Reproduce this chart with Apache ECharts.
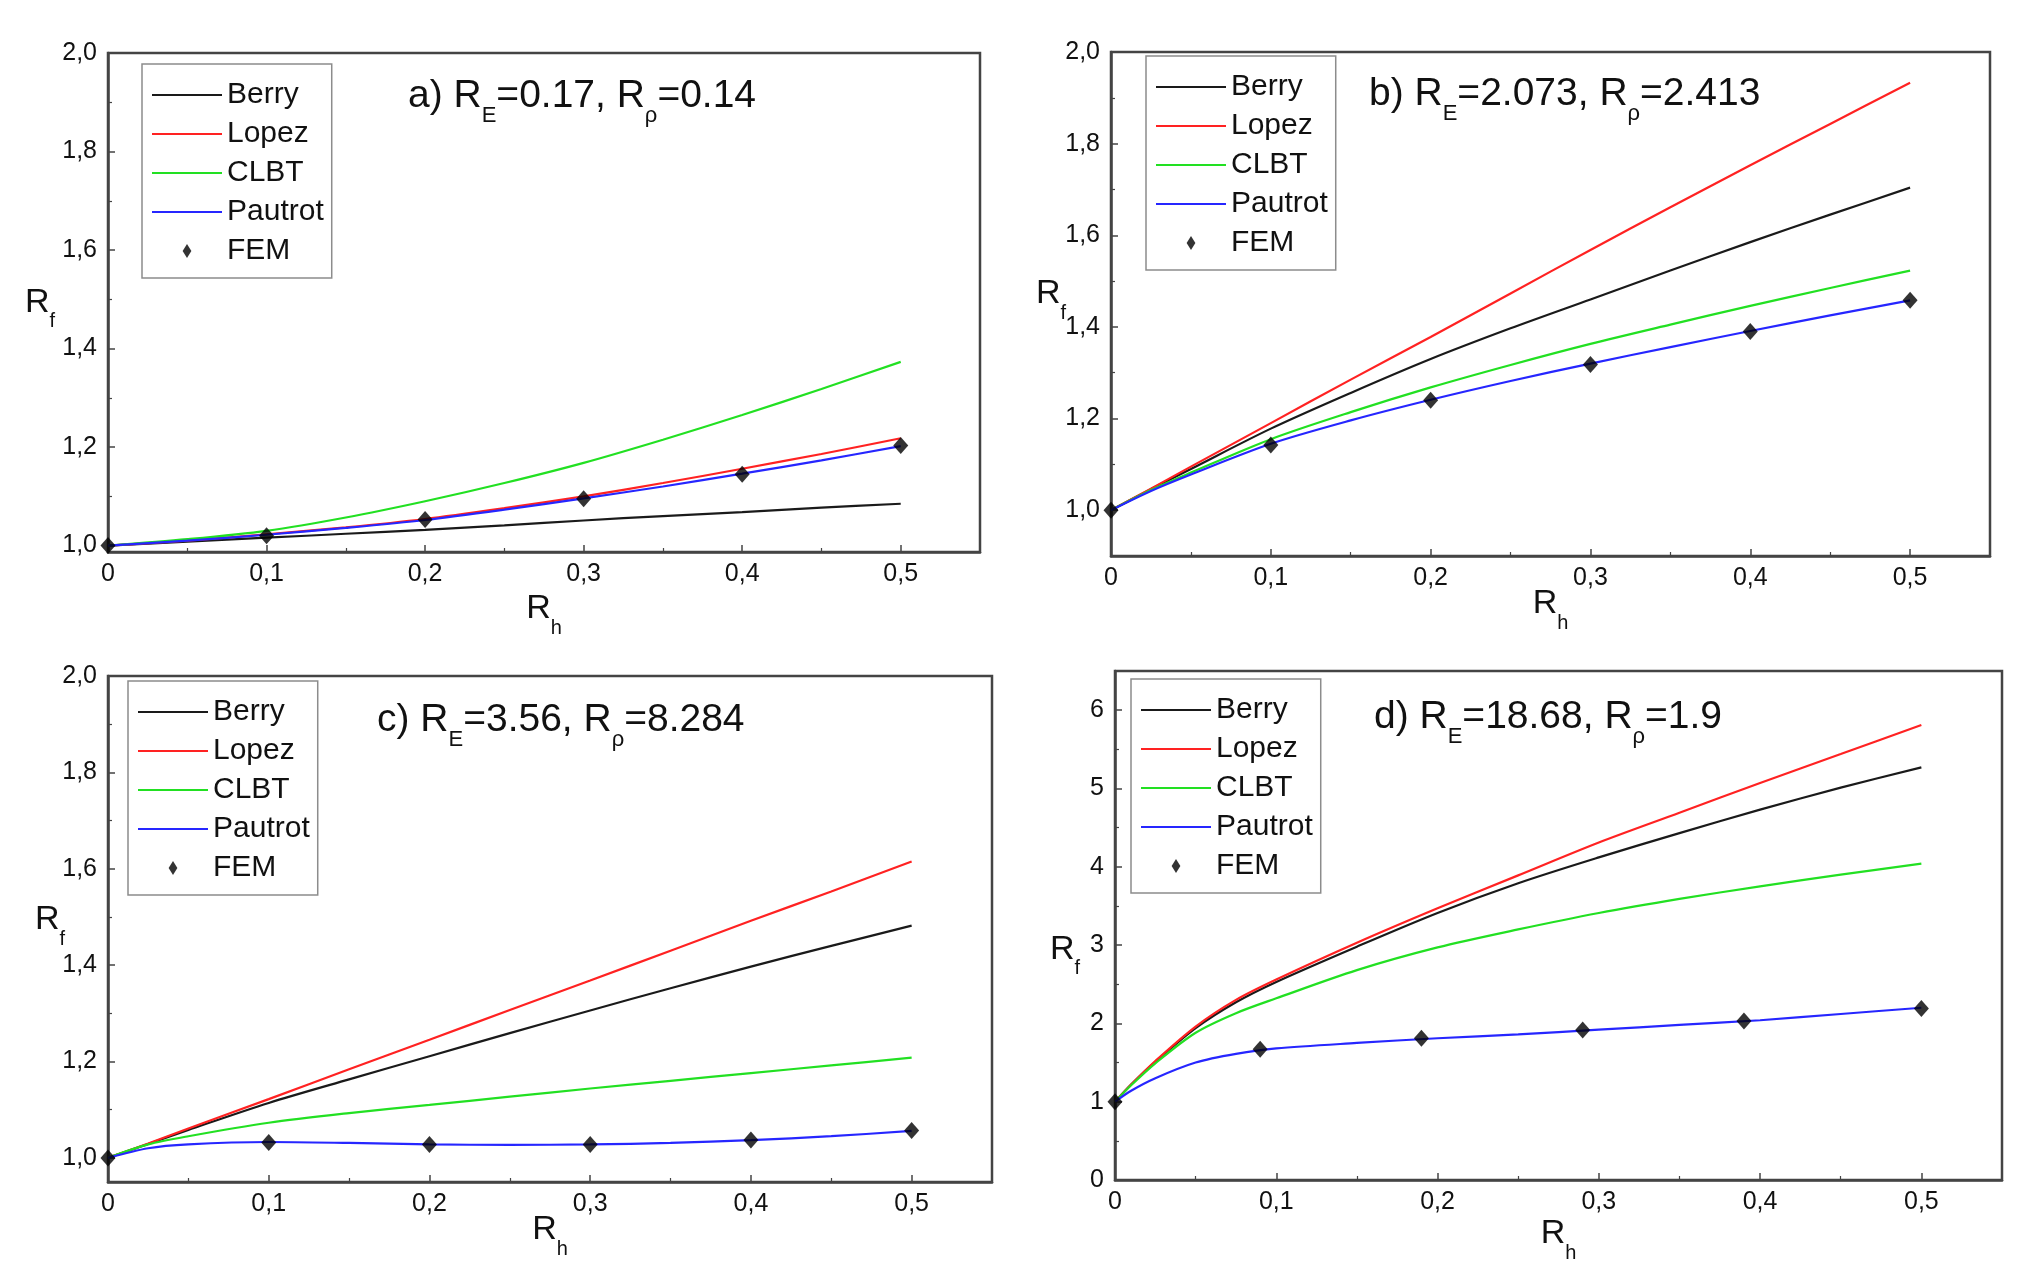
<!DOCTYPE html>
<html>
<head>
<meta charset="utf-8">
<script src="https://cdn.jsdelivr.net/npm/echarts@6/dist/echarts.min.js"></script>
<style>
  html, body { margin: 0; padding: 0; background: #fff; }
  #main { width: 2023px; height: 1286px; }
</style>
</head>
<body>
<div id="main"></div>
<script>
// ---- data (x = Rh, y = Rf) ----
const seriesNames = ['Berry', 'Lopez', 'CLBT', 'Pautrot', 'FEM'];

// a) RE=0.17, Rrho=0.14
const xA = [0, 0.05, 0.1, 0.15, 0.2, 0.25, 0.3, 0.35, 0.4, 0.45, 0.5];
const berryA = [1.0, 1.008, 1.016, 1.024, 1.032, 1.041, 1.051, 1.06, 1.068, 1.077, 1.085];
const lopezA = [1.0, 1.01, 1.023, 1.037, 1.054, 1.076, 1.1, 1.127, 1.156, 1.186, 1.218];
const clbtA = [1.0, 1.013, 1.03, 1.057, 1.09, 1.127, 1.168, 1.215, 1.265, 1.318, 1.373];
const pautrotA = [1.0, 1.01, 1.022, 1.036, 1.052, 1.073, 1.096, 1.12, 1.146, 1.173, 1.202];
const femXA = [0, 0.1, 0.2, 0.3, 0.4, 0.5];
const femA = [1.0, 1.02, 1.053, 1.095, 1.145, 1.203];

// b) RE=2.073, Rrho=2.413
const xB = [0, 0.025, 0.05, 0.1, 0.15, 0.2, 0.25, 0.3, 0.35, 0.4, 0.45, 0.5];
const berryB = [1.0, 1.046, 1.09, 1.178, 1.256, 1.33, 1.397, 1.46, 1.523, 1.585, 1.645, 1.704];
const lopezB = [1.0, 1.047, 1.095, 1.19, 1.285, 1.378, 1.473, 1.568, 1.661, 1.753, 1.843, 1.933];
const clbtB = [1.0, 1.044, 1.082, 1.155, 1.214, 1.268, 1.317, 1.363, 1.405, 1.446, 1.485, 1.523];
const pautrotB = [1.0, 1.042, 1.078, 1.145, 1.196, 1.241, 1.282, 1.32, 1.356, 1.391, 1.425, 1.458];
const femXB = [0, 0.1, 0.2, 0.3, 0.4, 0.5];
const femB = [1.0, 1.142, 1.24, 1.318, 1.39, 1.458];

// c) RE=3.56, Rrho=8.284
const xC = [0, 0.025, 0.05, 0.1, 0.15, 0.2, 0.25, 0.3, 0.35, 0.4, 0.45, 0.5];
const berryC = [1.0, 1.029, 1.058, 1.114, 1.163, 1.211, 1.259, 1.306, 1.352, 1.397, 1.44, 1.482];
const lopezC = [1.0, 1.03, 1.061, 1.122, 1.184, 1.245, 1.307, 1.368, 1.43, 1.492, 1.553, 1.615];
const clbtC = [1.0, 1.028, 1.045, 1.073, 1.093, 1.11, 1.127, 1.144, 1.16, 1.176, 1.192, 1.208];
const pautrotC = [1.0, 1.02, 1.028, 1.033, 1.031, 1.028, 1.027, 1.028, 1.031, 1.037, 1.045, 1.056];
const femXC = [0, 0.1, 0.2, 0.3, 0.4, 0.5];
const femC = [1.0, 1.032, 1.028, 1.028, 1.037, 1.057];

// d) RE=18.68, Rrho=1.9
const xD = [0, 0.01, 0.025, 0.05, 0.075, 0.1, 0.15, 0.2, 0.25, 0.3, 0.35, 0.4, 0.45, 0.5];
const berryD = [1.0, 1.22, 1.51, 1.94, 2.27, 2.53, 2.98, 3.41, 3.79, 4.12, 4.43, 4.73, 5.01, 5.27];
const lopezD = [1.0, 1.22, 1.52, 1.96, 2.3, 2.56, 3.03, 3.47, 3.89, 4.31, 4.69, 5.07, 5.44, 5.81];
const clbtD = [1.0, 1.21, 1.49, 1.88, 2.13, 2.32, 2.68, 2.97, 3.2, 3.41, 3.59, 3.75, 3.9, 4.04];
const pautrotD = [1.0, 1.14, 1.3, 1.5, 1.61, 1.68, 1.75, 1.81, 1.86, 1.92, 1.98, 2.04, 2.12, 2.2];
const femXD = [0, 0.09, 0.19, 0.29, 0.39, 0.5];
const femD = [1.0, 1.67, 1.81, 1.914, 2.03, 2.19];

const panelTitles = [
  '{m|a) R}{s|E}{m|=0.17, R}{s|ρ}{m|=0.14}',
  '{m|b) R}{s|E}{m|=2.073, R}{s|ρ}{m|=2.413}',
  '{m|c) R}{s|E}{m|=3.56, R}{s|ρ}{m|=8.284}',
  '{m|d) R}{s|E}{m|=18.68, R}{s|ρ}{m|=1.9}',
];

// ---- styling / layout ----
const FONT = "'Liberation Sans', Arial, sans-serif";
const INK = '#111';
const AXIS = '#444';
const lineColors = { Berry: '#1a1a1a', Lopez: '#ff2222', CLBT: '#22e022', Pautrot: '#2626ff' };
// flat bar used as legend key for the curves, small diamond for FEM
const LINE_ICON = 'path://M0,0L70,0L70,2.2L0,2.2Z';
const DIAMOND_ICON = 'path://M5,0L10,8L5,16L0,8Z';

const panels = [
  { grid: { left: 108, top: 53, width: 872, height: 499 }, yMin: 0.987, yMax: 2.0, yStep: 0.2,
    x: xA, lines: [berryA, lopezA, clbtA, pautrotA], femX: femXA, fem: femA,
    legend: [142, 64], title: [408, 77], yNameGap: 53, yNamePad: [12, 0, 0, 0], xNameGap: 40 },
  { grid: { left: 1111, top: 52, width: 879, height: 504 }, yMin: 0.9, yMax: 2.0, yStep: 0.2,
    x: xB, lines: [berryB, lopezB, clbtB, pautrotB], femX: femXB, fem: femB,
    legend: [1146, 56], title: [1369, 75], yNameGap: 45, yNamePad: [0, 0, 8, 0], xNameGap: 31 },
  { grid: { left: 108, top: 676, width: 884, height: 506 }, yMin: 0.95, yMax: 2.0, yStep: 0.2,
    x: xC, lines: [berryC, lopezC, clbtC, pautrotC], femX: femXC, fem: femC,
    legend: [128, 681], title: [377, 701], yNameGap: 43, yNamePad: [0, 0, 6, 0], xNameGap: 31 },
  { grid: { left: 1115, top: 671, width: 887, height: 509 }, yMin: 0, yMax: 6.5, yStep: 1,
    x: xD, lines: [berryD, lopezD, clbtD, pautrotD], femX: femXD, fem: femD,
    legend: [1131, 679], title: [1374, 698], yNameGap: 35, yNamePad: [60, 0, 0, 0], xNameGap: 37 },
];

function zip(xs, ys) {
  return xs.map((x, i) => [x, ys[i]]);
}

function commaLabel(step) {
  return function (v) {
    const k = v / step;
    if (Math.abs(k - Math.round(k)) > 1e-6) return '';
    if (Math.abs(v) < 1e-9) return '0';
    return step < 1 ? v.toFixed(1).replace('.', ',') : String(Math.round(v));
  };
}

function subRich(main, sub, pad) {
  return {
    m: { fontFamily: FONT, fontSize: main, fontWeight: 'normal', color: INK, verticalAlign: 'top' },
    s: { fontFamily: FONT, fontSize: sub, fontWeight: 'normal', color: INK, verticalAlign: 'bottom', padding: [pad, 0, 0, 0] },
  };
}

const axisCommon = {
  type: 'value',
  splitLine: { show: false },
  axisLine: { show: true, onZero: false, lineStyle: { color: AXIS, width: 2.5 } },
  axisTick: { show: true, inside: true, length: 7, lineStyle: { color: AXIS, width: 1.5 } },
  minorTick: { show: true, splitNumber: 2, length: 4, lineStyle: { color: AXIS, width: 1.2 } },
  nameMoveOverlap: false,
};

const option = {
  backgroundColor: '#fff',
  animation: false,
  grid: [],
  xAxis: [],
  yAxis: [],
  legend: [],
  title: [],
  series: [],
};

panels.forEach((p, gi) => {
  option.grid.push(Object.assign({ show: true, borderColor: AXIS, borderWidth: 2.5, outerBoundsMode: 'none' }, p.grid));

  option.xAxis.push(Object.assign({}, axisCommon, {
    gridIndex: gi, min: 0, max: 0.55, splitNumber: 5, minInterval: 0.1, maxInterval: 0.1,
    axisLabel: { formatter: commaLabel(0.1), fontFamily: FONT, fontSize: 25, color: INK, margin: 10 },
    name: '{m|R}{s|h}', nameLocation: 'middle', nameGap: p.xNameGap,
    nameTextStyle: { fontWeight: 'normal', rich: subRich(34, 20, 26) },
  }));

  option.yAxis.push(Object.assign({}, axisCommon, {
    gridIndex: gi, min: p.yMin, max: p.yMax, splitNumber: 5, minInterval: p.yStep, maxInterval: p.yStep,
    axisLabel: { formatter: commaLabel(p.yStep), fontFamily: FONT, fontSize: 25, color: INK, margin: 11 },
    name: '{m|R}{s|f}', nameLocation: 'middle', nameGap: p.yNameGap, nameRotate: 0,
    nameTextStyle: { fontWeight: 'normal', rich: subRich(34, 20, 26), padding: p.yNamePad },
  }));

  option.legend.push({
    orient: 'vertical', left: p.legend[0], top: p.legend[1],
    itemWidth: 70, itemHeight: 14, itemGap: 9,
    padding: [16, 8, 12, 10],
    borderColor: '#8c8c8c', borderWidth: 1.5, backgroundColor: '#fff',
    selectedMode: false,
    textStyle: { fontFamily: FONT, fontSize: 30, color: INK, lineHeight: 30 },
    data: [
      { name: 'Berry', icon: LINE_ICON },
      { name: 'Lopez', icon: LINE_ICON },
      { name: 'CLBT', icon: LINE_ICON },
      { name: 'Pautrot', icon: LINE_ICON },
      { name: 'FEM', icon: DIAMOND_ICON },
    ],
  });

  option.title.push({
    text: panelTitles[gi], left: p.title[0], top: p.title[1], padding: 0,
    textStyle: { fontWeight: 'normal', rich: subRich(39, 22, 28) },
  });

  seriesNames.slice(0, 4).forEach((name, si) => {
    option.series.push({
      name, type: 'line', xAxisIndex: gi, yAxisIndex: gi,
      data: zip(p.x, p.lines[si]),
      symbol: 'none', smooth: 0.3,
      lineStyle: { color: lineColors[name], width: 2.2 },
      itemStyle: { color: lineColors[name] },
      z: 2 + si,
    });
  });

  option.series.push({
    name: 'FEM', type: 'scatter', xAxisIndex: gi, yAxisIndex: gi,
    data: zip(p.femX, p.fem),
    symbol: 'diamond', symbolSize: [15, 17],
    itemStyle: { color: '#000' },
    z: 10,
  });
});

const chart = echarts.init(document.getElementById('main'), null, { renderer: 'canvas' });
chart.setOption(option);
</script>
</body>
</html>
